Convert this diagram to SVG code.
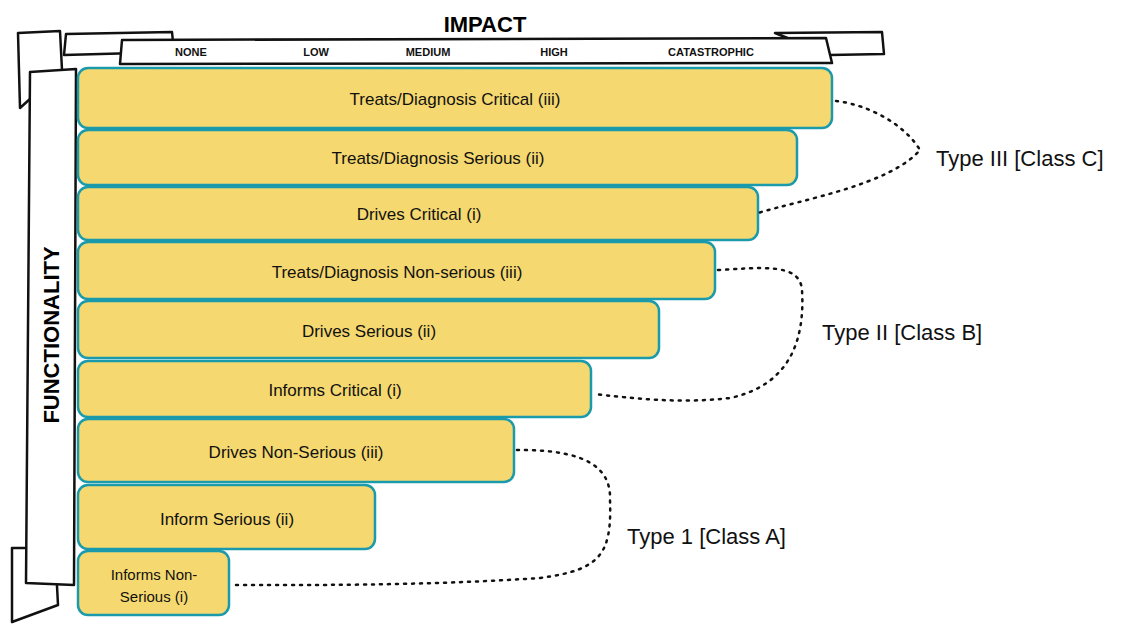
<svg xmlns="http://www.w3.org/2000/svg" width="1141" height="628" viewBox="0 0 1141 628">
<style>
.bar{fill:#f5d86f;stroke:#1a9aab;stroke-width:2.5}
.ban{fill:#fff;stroke:#111;stroke-width:2.5;stroke-linejoin:round}
.t{font-family:"Liberation Sans",sans-serif;font-size:17px;fill:#111;text-anchor:middle}
.s{font-family:"Liberation Sans",sans-serif;font-size:11px;font-weight:bold;fill:#111;text-anchor:middle}
.ty{font-family:"Liberation Sans",sans-serif;font-size:22px;fill:#111}
.c{fill:none;stroke:#111;stroke-width:2.5;stroke-dasharray:2 6;stroke-linecap:round}
</style>
<rect width="1141" height="628" fill="#fff"/>
<g id="impact-banner">
<polygon class="ban" points="66,34 172,32 174,52 64,55"/>
<polygon class="ban" points="775,33 882,32 884,54 830,55"/>
<polygon class="ban" points="122,40 826,38 832,63 120,64"/>
<text x="485" y="32" style="font-family:'Liberation Sans',sans-serif;font-size:22px;font-weight:bold;text-anchor:middle">IMPACT</text>
<text class="s" x="191" y="56">NONE</text>
<text class="s" x="316" y="56">LOW</text>
<text class="s" x="428" y="56">MEDIUM</text>
<text class="s" x="554" y="56">HIGH</text>
<text class="s" x="711" y="56">CATASTROPHIC</text>
</g>
<g id="functionality-banner">
<polygon class="ban" points="18,33 60,31 62,70 20,108"/>
<polygon class="ban" points="12,548 55,548 58,605 12,622"/>
<polygon class="ban" points="30,72 76,69 74,585 26,583"/>
<text transform="translate(59,335) rotate(-90)" style="font-family:'Liberation Sans',sans-serif;font-size:22px;font-weight:bold;text-anchor:middle">FUNCTIONALITY</text>
</g>
<g id="n1"><rect class="bar" x="78" y="68" width="754" height="60" rx="10"/><text class="t" x="455" y="105">Treats/Diagnosis Critical (iii)</text></g>
<g id="n2"><rect class="bar" x="78" y="130" width="719" height="55" rx="10"/><text class="t" x="438" y="164">Treats/Diagnosis Serious (ii)</text></g>
<g id="n3"><rect class="bar" x="78" y="187" width="680" height="53" rx="10"/><text class="t" x="419" y="220">Drives Critical (i)</text></g>
<g id="n4"><rect class="bar" x="78" y="242" width="637" height="57" rx="10"/><text class="t" x="397" y="278">Treats/Diagnosis Non-serious (iii)</text></g>
<g id="n5"><rect class="bar" x="78" y="301" width="581" height="57" rx="10"/><text class="t" x="369" y="337">Drives Serious  (ii)</text></g>
<g id="n6"><rect class="bar" x="78" y="361" width="513" height="56" rx="10"/><text class="t" x="335" y="396">Informs Critical (i)</text></g>
<g id="n7"><rect class="bar" x="78" y="419" width="436" height="63" rx="10"/><text class="t" x="296" y="458">Drives Non-Serious (iii)</text></g>
<g id="n8"><rect class="bar" x="78" y="485" width="297" height="64" rx="10"/><text class="t" x="227" y="525">Inform Serious (ii)</text></g>
<g id="n9"><rect class="bar" x="78" y="551" width="151" height="64" rx="10"/><text class="t" x="154" y="580" style="font-size:15px">Informs Non-</text><text class="t" x="154" y="602" style="font-size:15px">Serious (i)</text></g>
<g id="labels">
<text class="ty" x="936" y="166">Type III [Class C]</text>
<text class="ty" x="822" y="340">Type II [Class B]</text>
<text class="ty" x="627" y="544">Type 1 [Class A]</text>
</g>
<g id="connectors">
<path class="c" d="M836,101 C870,105 905,125 920,150 C890,185 800,200 758,213"/>
<path class="c" d="M718,270 C760,268 800,262 802,290 C805,340 790,385 730,398 C680,404 630,398 594,394"/>
<path class="c" d="M517,450 C560,450 612,455 610,500 C612,555 600,570 540,578 C420,586 300,585 232,585"/>
</g>
</svg>
